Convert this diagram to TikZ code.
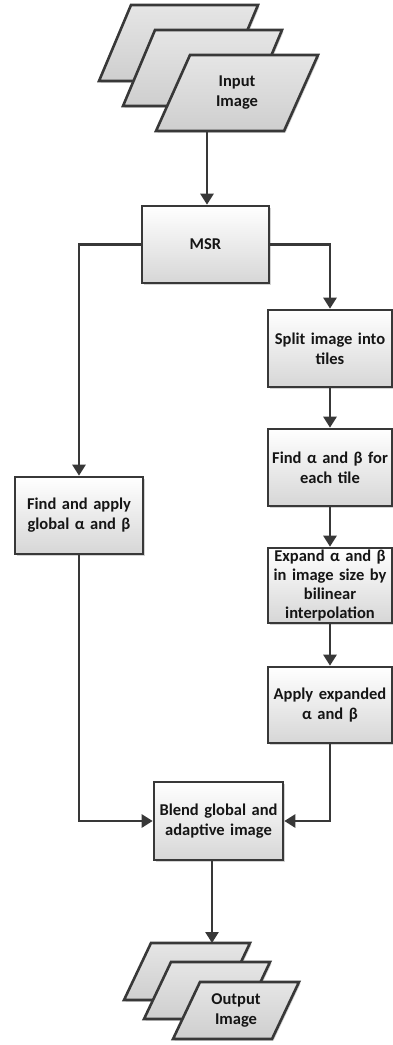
\documentclass[tikz,border=0pt]{standalone}
\usepackage{fontspec}
\setmainfont{Carlito}
\usetikzlibrary{arrows.meta,shadows}
\definecolor{linec}{HTML}{383838}
\definecolor{txtc}{HTML}{151515}
\tikzset{
  shd/.style={drop shadow={shadow xshift=1.6pt,shadow yshift=-1.6pt,opacity=0.35,fill=gray}},
  procbox/.style={draw=linec, line width=2.6pt, top color=white, bottom color=gray!32,
    minimum width=124pt, minimum height=77pt, inner sep=0pt, align=center,
    text width=122pt, text=txtc, font=\bfseries\fontsize{16.5}{20}\selectfont, shd},
  para/.style={draw=linec, line width=2.6pt, top color=gray!20, bottom color=gray!38, line join=miter, shd},
  paratext/.style={align=center, text=txtc, font=\bfseries\fontsize{16.5}{20}\selectfont},
  arr/.style={draw=linec, line width=2.6pt, -{Triangle[width=13pt,length=11pt]}}
}
\begin{document}
\begin{tikzpicture}[x=1pt,y=-1pt]
\useasboundingbox (0,0) rectangle (393,1045);
% input stack
\path[para] (131,5) -- (258,5) -- (226,81) -- (99,81) -- cycle;
\path[para] (155,30) -- (282,30) -- (250,106) -- (123,106) -- cycle;
\path[para] (190,55) -- (318,55) -- (284,131) -- (156,131) -- cycle;
\node[paratext] (inp) at (237,93) {Input\\Image};
\coordinate (inb) at (207,131);
% boxes
\node[procbox, minimum width=127pt] (msr) at (205.5,244.5) {MSR};
\node[procbox] (split) at (330,348.5) {Split image into\\tiles};
\node[procbox] (find) at (330,467.5) {Find α and β for\\each tile};
\node[procbox, minimum height=75pt, font=\bfseries\fontsize{16.5}{19}\selectfont] (expand) at (330,585.5) {Expand α and β\\in image size by\\bilinear\\interpolation};
\node[procbox, minimum height=76pt] (apply) at (330,705) {Apply expanded\\α and β};
\node[procbox, minimum width=128pt] (global) at (79,515.5) {Find and apply\\global α and β};
\node[procbox, minimum width=129pt, minimum height=78pt] (blend) at (218.5,821) {Blend global and\\adaptive image};
% output stack
\coordinate (outt) at (212,943);
\path[para] (151,943) -- (250,943) -- (223,1000) -- (124,1000) -- cycle;
\path[para] (171,962) -- (270,962) -- (243,1019) -- (144,1019) -- cycle;
\path[para] (200,982) -- (299,982) -- (272,1039) -- (173,1039) -- cycle;
\node[paratext] (outp) at (236,1010) {Output\\Image};
% connectors
\draw[arr] (inb) -- (inb |- msr.north);
\draw[arr] (msr.west) -| (global.north);
\draw[arr] (msr.east) -| (split.north);
\draw[arr] (split) -- (find);
\draw[arr] (find) -- (expand);
\draw[arr] (expand) -- (apply);
\draw[arr] (global.south) |- (blend.west);
\draw[arr] (apply.south) |- (blend.east);
\draw[arr] (blend.south -| outt) -- (outt);
\end{tikzpicture}
\end{document}
